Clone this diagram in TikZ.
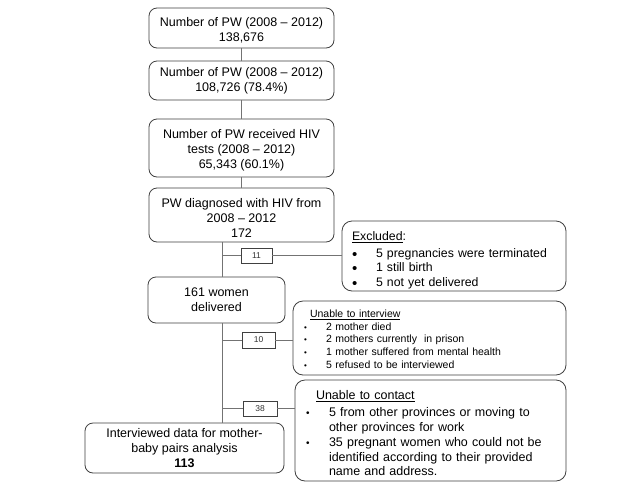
\documentclass[tikz,border=0pt]{standalone}
\usepackage{fontspec}
\setmainfont{Liberation Sans}
\newcommand\topstrut[1]{\rule{0pt}{#1}}
\newcommand\bigdot{\raisebox{-2pt}{\fontsize{15}{14.5}\selectfont •}}
\begin{document}
\begin{tikzpicture}[x=1pt,y=-1pt,
  box/.style={draw=black!75, line width=0.8pt, rounded corners=8pt, align=center, inner sep=0pt,
    font=\fontsize{12.5}{15}\selectfont},
  sidebox/.style={draw=black!75, line width=0.8pt, rounded corners=10pt, align=left, inner ysep=0pt},
  numbox/.style={draw=black!75, line width=0.7pt, inner sep=0pt, text=black!80,
    font=\fontsize{8.5}{10}\selectfont},
  conn/.style={draw=black!55, line width=0.8pt}]
\useasboundingbox (0,0) rectangle (640,488);
\fill[white] (0,0) rectangle (640,488);

% main column
\node[box, minimum width=185pt, minimum height=40pt] (b1) at (241.5,28)
  {\topstrut{14pt}Number of PW (2008 – 2012)\\138,676};
\node[box, minimum width=185pt, minimum height=39pt] (b2) at (241.5,80.5)
  {\topstrut{10pt}Number of PW (2008 – 2012)\\108,726 (78.4\%)};
\node[box, minimum width=185pt, minimum height=58pt] (b3) at (241.5,148)
  {\topstrut{14pt}Number of PW received HIV\\tests (2008 – 2012)\\65,343 (60.1\%)};
\node[box, minimum width=185pt, minimum height=54pt] (b4) at (241.5,215)
  {\topstrut{14.5pt}PW diagnosed with HIV from\\2008 – 2012\\172};
\node[box, minimum width=137pt, minimum height=46pt] (d161) at (216.5,300)
  {161 women\\delivered};
\node[box, minimum width=199pt, minimum height=50pt] (b113) at (184.5,448)
  {Interviewed data for mother-\\baby pairs analysis\\\textbf{113}};

% side boxes
\node[sidebox, minimum width=224pt, minimum height=70pt, text width=204pt, inner xsep=10pt,
  font=\fontsize{12.3}{14.5}\selectfont] (ex) at (454,256)
  {\topstrut{17.5pt}\underline{Excluded}:\\[2pt]
   \makebox[24pt][l]{\bigdot}5 pregnancies were terminated\\
   \makebox[24pt][l]{\bigdot}1 still birth\\
   \makebox[24pt][l]{\bigdot}5 not yet delivered};
\node[sidebox, minimum width=273pt, minimum height=74pt, text width=251pt, inner xsep=11pt,
  font=\fontsize{10.5}{12.7}\selectfont] (iv) at (429.5,338)
  {\topstrut{9.5pt}\hspace*{6pt}\underline{Unable to interview}\\
   \makebox[22pt][l]{{\fontsize{8}{12.7}\selectfont •}}2 mother died\\
   \makebox[22pt][l]{{\fontsize{8}{12.7}\selectfont •}}2 mothers currently\ \ in prison\\
   \makebox[22pt][l]{{\fontsize{8}{12.7}\selectfont •}}1 mother suffered from mental health\\
   \makebox[22pt][l]{{\fontsize{8}{12.7}\selectfont •}}5 refused to be interviewed};
\node[sidebox, minimum width=271pt, minimum height=101pt, text width=249pt, inner xsep=11pt,
  font=\fontsize{12.5}{14.8}\selectfont] (ct) at (430.5,430.5)
  {\topstrut{15pt}\hspace*{10pt}\underline{Unable to contact}\\[2pt]
   \makebox[23pt][l]{{\fontsize{10}{14.8}\selectfont •}}5 from other provinces or moving to\\
   \hspace*{23pt}other provinces for work\\
   \makebox[23pt][l]{{\fontsize{10}{14.8}\selectfont •}}35 pregnant women who could not be\\
   \hspace*{23pt}identified according to their provided\\
   \hspace*{23pt}name and address.};

% small count boxes
\node[numbox, minimum width=31pt, minimum height=15pt] (n11) at (256.5,255.5) {11};
\node[numbox, minimum width=33pt, minimum height=16pt] (n10) at (258.5,340) {10};
\node[numbox, minimum width=34pt, minimum height=15pt] (n38) at (260,408.5) {38};

% connectors
\coordinate (sp) at (222,0);
\draw[conn] (b1) -- (b2);
\draw[conn] (b2) -- (b3);
\draw[conn] (b3) -- (b4);
\draw[conn] (b4.south -| sp) -- (d161.north -| sp);
\draw[conn] (d161.south -| sp) -- (b113.north -| sp);
\draw[conn] (n11.west -| sp) -- (n11.west);
\draw[conn] (n11.east) -- (n11.east -| ex.west);
\draw[conn] (n10.west -| sp) -- (n10.west);
\draw[conn] (n10.east) -- (n10.east -| iv.west);
\draw[conn] (n38.west -| sp) -- (n38.west);
\draw[conn] (n38.east) -- (n38.east -| ct.west);
\end{tikzpicture}
\end{document}
